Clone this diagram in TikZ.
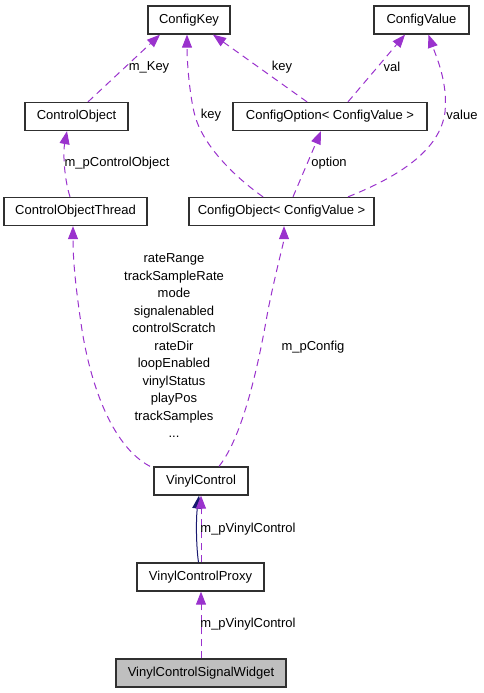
\documentclass[tikz,border=0pt]{standalone}
\usepackage{fontspec}
\setmainfont{Liberation Sans}
\usetikzlibrary{arrows.meta}
\definecolor{edgepurple}{HTML}{9A32CD}
\definecolor{edgenavy}{HTML}{191970}
\definecolor{widgetgray}{HTML}{BFBFBF}
\definecolor{boxline}{HTML}{303030}
\begin{document}
\begin{tikzpicture}[x=1pt,y=-1pt,
  cls/.style={draw=boxline,line width=1.3pt,minimum height=28pt,inner sep=0pt,font=\fontsize{13}{15}\selectfont},
  uses/.style={draw=edgepurple,line width=1pt,dash pattern=on 7pt off 5pt,-{Triangle[length=13pt,width=10pt,fill=edgepurple]}},
  inh/.style={draw=edgenavy,line width=1pt,-{Triangle[length=13pt,width=10pt,fill=edgenavy]}},
  lbl/.style={font=\fontsize{13}{17.5}\selectfont,inner sep=0pt,align=center}]
\useasboundingbox (0,0) rectangle (484,693);
% nodes
\node[cls,minimum width=82pt] (ck) at (189,20) {ConfigKey};
\node[cls,minimum width=95pt] (cv) at (421.5,20) {ConfigValue};
\node[cls,minimum width=103pt] (co) at (76.5,116.5) {ControlObject};
\node[cls,minimum width=194pt] (copt) at (330,116.5) {ConfigOption< ConfigValue >};
\node[cls,minimum width=143pt] (cot) at (75.5,211.5) {ControlObjectThread};
\node[cls,minimum width=185pt] (cobj) at (281.5,211.5) {ConfigObject< ConfigValue >};
\node[cls,minimum width=94pt] (vc) at (201,481) {VinylControl};
\node[cls,minimum width=127pt] (vcp) at (200.5,577) {VinylControlProxy};
\node[cls,minimum width=170pt,fill=widgetgray] (w) at (201,673) {VinylControlSignalWidget};
% edges
\draw[uses] ([xshift=11.5pt]co.north) -- ([xshift=-29pt]ck.south);
\draw[uses] ([xshift=-23pt]copt.north) -- ([xshift=24pt]ck.south);
\draw[uses] ([xshift=-18.5pt]cobj.north) .. controls (228,172) and (200,140) .. (194,112) .. controls (189,90) and (187,60) .. ([xshift=-2pt]ck.south);
\draw[uses] ([xshift=18pt]copt.north) -- ([xshift=-16.5pt]cv.south);
\draw[uses] ([xshift=66.5pt]cobj.north) .. controls (400,176) and (440,150) .. (445,112) .. controls (448,82) and (436,56) .. ([xshift=7pt]cv.south);
\draw[uses] ([xshift=11.5pt]cobj.north) -- ([xshift=-9pt]copt.south);
\draw[uses] ([xshift=-5.5pt]cot.north) .. controls (64,178) and (63,152) .. ([xshift=-9.5pt]co.south);
\draw[uses] ([xshift=-51pt]vc.north) .. controls (110,445) and (90,380) .. (82,330) .. controls (76,290) and (73,262) .. ([xshift=-2.5pt]cot.south);
\draw[uses] ([xshift=18pt]vc.north) .. controls (240,440) and (256,380) .. (268,310) .. controls (278,262) and (284,242) .. ([xshift=2.5pt]cobj.south);
\draw[inh] ([xshift=-2pt]vcp.north) .. controls (196,545) and (196,518) .. ([xshift=-2pt]vc.south);
\draw[uses] ([xshift=0.5pt]vcp.north) -- ([xshift=0pt]vc.south);
\draw[uses] (w.north) -- ([xshift=0.5pt]vcp.south);
% labels
\node[lbl] (l1) at (149,67) {m\_Key};
\node[lbl] (l2) at (282,67) {key};
\node[lbl] (l3) at (392,67) {val};
\node[lbl] (l4) at (211,115) {key};
\node[lbl] (l5) at (462,115) {value};
\node[lbl] (l6) at (117,163) {m\_pControlObject};
\node[lbl] (l7) at (329,163) {option};
\node[lbl] (l8) at (174,346) {rateRange\\trackSampleRate\\mode\\signalenabled\\controlScratch\\rateDir\\loopEnabled\\vinylStatus\\playPos\\trackSamples\\...};
\node[lbl] (l9) at (313,347) {m\_pConfig};
\node[lbl] (l10) at (248,529) {m\_pVinylControl};
\node[lbl] (l11) at (248,624) {m\_pVinylControl};
\end{tikzpicture}
\end{document}
